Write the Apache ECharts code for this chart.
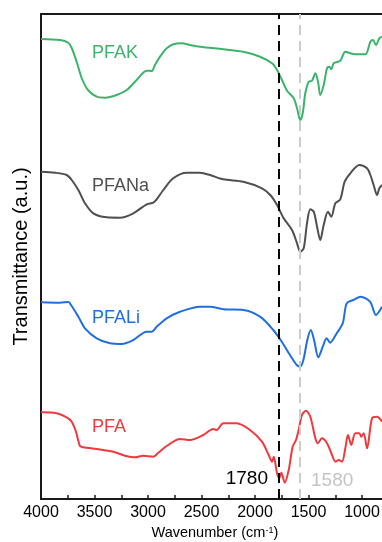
<!DOCTYPE html>
<html><head><meta charset="utf-8">
<script src="https://cdn.jsdelivr.net/npm/echarts@6/dist/echarts.min.js"></script>
<style>html,body{margin:0;padding:0;background:#fff}#c{width:382px;height:542px}</style>
</head><body><div id="c"></div>
<script>
// ---- data ----
const seriesNames = ['PFAK', 'PFANa', 'PFALi', 'PFA'];

const pfakWn = [4000,3822,3745,3713,3666,3620,3561,3479,3402,3293,3199,3106,3012,2965,2935,2888,2825,2764,2685,2607,2514,2296,2109,1953,1841,1794,1748,1701,1638,1607,1577,1554,1530,1498,1467,1436,1411,1390,1358,1327,1306,1287,1264,1203,1156,1109,1063,969,922,897,869,838,813];
const pfakT  = [460,459,456.3,451,437,421,409,402.3,401.3,404,409,419,428.3,428,434,442.3,450.7,454.7,455.7,454,452.3,449.7,447.3,442.3,435.7,429,419,408.3,400.7,390.7,379,385.7,405.7,417.3,418.3,425.7,417.3,404,414,430.7,432.3,429.7,435.7,438.3,447.3,445.7,444.7,444.7,457.3,459,454,460.7,462.3];

const pfanaWn = [4000,3869,3760,3713,3651,3589,3511,3386,3262,3137,3012,2950,2919,2857,2764,2638,2514,2420,2296,2109,1935,1857,1794,1732,1654,1607,1577,1545,1514,1483,1451,1420,1390,1358,1318,1287,1249,1203,1162,1109,1025,953,922,891,860,838,813];
const pfanaT  = [327.3,326.3,324,319,309,295.7,285.7,281.7,281.3,285.7,294.7,296.3,299.7,309,320.7,326.3,326.3,324,319.7,317.3,310.7,304,294,280.7,269,255.7,247.3,250.7,275.7,289.7,287.3,272.3,259,274,287.3,282.3,295.7,299.7,317.3,325.7,334,330.7,324,314,304,310.7,314];

const pfaliWn = [4000,3822,3745,3713,3651,3589,3479,3355,3246,3137,3012,2965,2919,2825,2701,2514,2420,2296,2109,1953,1829,1750,1673,1610,1579,1548,1511,1479,1448,1408,1367,1330,1299,1236,1180,1143,1081,1012,925,869,841,813];
const pfaliT  = [196.7,196.3,197,193,182.3,170.7,160.7,155.7,155,159,167.3,167.3,172.3,180.7,187.3,192.3,192.3,189.7,189,182.3,169,157.3,144,134,132.3,139,159,169,159,141.7,152.3,160.7,156.3,165.7,175.7,195.7,199,202.3,197.3,184,187.3,192.3];

const pfaWn = [4000,3853,3760,3713,3673,3636,3605,3479,3324,3215,3121,3044,2950,2904,2825,2701,2607,2483,2390,2358,2296,2171,2047,1935,1872,1841,1825,1794,1773,1754,1722,1685,1648,1617,1592,1561,1523,1483,1436,1414,1374,1327,1280,1249,1218,1187,1156,1131,1100,1063,1025,1007,984,953,906,860,813];
const pfaT  = [86.7,85.7,81.7,77.3,67.3,53,51.7,50,47.3,43.3,41.7,43.3,42.3,46.3,53,60,59,64,70,69,75.7,75.7,69,57.3,44,37.3,42.3,25.7,20.7,26.3,16.3,29,52.3,59,69,84,88.3,82.3,60.7,55.7,60.7,55.7,44,37.3,39,37.3,50.7,64,54,65.7,65.7,62.3,65.7,50.7,80.7,82.3,77.3];

const markerLines = [1780, 1580];
const xTickLabels = [4000, 3500, 3000, 2500, 2000, 1500, 1000];

// ---- styling ----
const FONT = 'Arial, "Liberation Sans", sans-serif';
const colors = ['#3cb36a', '#4f4f4f', '#1f6fe0', '#f0393c'];
const labelTops = [54, 187, 319, 428];
const markerColors = ['#000000', '#cccccc'];

const wnArr = [pfakWn, pfanaWn, pfaliWn, pfaWn];
const tArr = [pfakT, pfanaT, pfaliT, pfaT];
const pairs = (w, t) => w.map((x, i) => [x, t[i]]);

const chart = echarts.init(document.getElementById('c'), null, {renderer: 'canvas'});

const series = seriesNames.map((n, i) => ({
  type: 'line', name: n, data: pairs(wnArr[i], tArr[i]),
  showSymbol: false, smooth: 0.3, clip: true,
  lineStyle: {color: colors[i], width: 2}, z: 3
}));
series.push({
  type: 'line', data: [], silent: true,
  markLine: {
    silent: true, symbol: ['none', 'none'], label: {show: false}, animation: false,
    data: markerLines.map((v, i) => ({xAxis: v, lineStyle: {color: markerColors[i], type: [10, 6], width: 2}}))
  }, z: 2
});

chart.setOption({
  animation: false,
  backgroundColor: '#fff',
  grid: {left: 41, right: -6.75, top: 14, bottom: 43, outerBoundsMode: 'none', containLabel: false,
    show: true, borderColor: '#1a1a1a', borderWidth: 2},
  xAxis: {
    type: 'value', inverse: true, min: 750, max: 4000, interval: 250,
    name: 'Wavenumber (cm{s|-1})', nameLocation: 'middle', nameGap: 24,
    nameTextStyle: {fontFamily: FONT, fontSize: 14.5, color: '#000', rich: {s: {fontSize: 9, verticalAlign: 'top', fontFamily: FONT, color: '#000'}}},
    axisLine: {show: true, lineStyle: {color: '#1a1a1a', width: 2}},
    axisTick: {show: true, inside: true, length: 4, lineStyle: {color: '#1a1a1a', width: 1.5}},
    axisLabel: {fontFamily: FONT, fontSize: 16, color: '#000', margin: 6,
      formatter: v => xTickLabels.indexOf(v) >= 0 ? String(v) : ''},
    splitLine: {show: false}
  },
  yAxis: {
    type: 'value', min: 0, max: 485,
    name: 'Transmittance (a.u.)', nameLocation: 'middle', nameGap: 10,
    nameTextStyle: {fontFamily: FONT, fontSize: 20, color: '#000'},
    axisLine: {show: true, lineStyle: {color: '#1a1a1a', width: 2}},
    axisTick: {show: false}, axisLabel: {show: false}, splitLine: {show: false}
  },
  graphic: seriesNames.map((n, i) => ({
    type: 'text', left: 92, top: labelTops[i] - 10,
    style: {text: n, fill: colors[i], font: '18px ' + FONT}
  })).concat([
    {type: 'text', right: 382 - 268, top: 469, style: {text: String(markerLines[0]), fill: '#000', font: '19px ' + FONT}},
    {type: 'text', left: 311, top: 471, style: {text: String(markerLines[1]), fill: '#c4c4c4', font: '19px ' + FONT}}
  ]),
  series: series
});
</script></body></html>
